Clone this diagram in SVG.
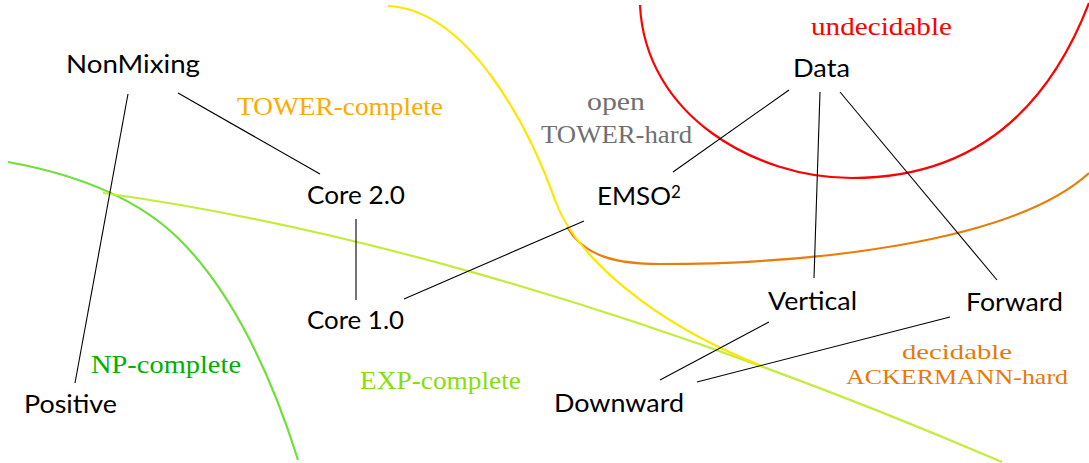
<svg xmlns="http://www.w3.org/2000/svg" width="1089" height="463" viewBox="0 0 1089 463">
<style>
.n{font-family:Lato,"Open Sans","DejaVu Sans",sans-serif;font-size:25px;fill:#000}
.c{font-family:"Liberation Serif","DejaVu Serif",serif;font-size:26px}
.s{font-size:22px}
.e{stroke:#000;stroke-width:1.1;fill:none}
.r{fill:none;stroke-width:2.2}
</style>
<rect width="1089" height="463" fill="#fff"/>
<g id="regions">
<path class="r" stroke="#ff0000" d="M640,5 C645,115 755,178 852,178 C955,178 1040,130 1089,3"/>
<path class="r" stroke="#e67e0a" d="M567,227 C585,258 620,264 660,264 C800,264 1010,245 1089,173"/>
<path class="r" stroke="#6ee03a" d="M8,162 C80,175 140,200 180,240 C230,290 270,370 298,460"/>
<path class="r" stroke="#c4ec3c" d="M103,193 C300,220 600,290 1002,462"/>
<path class="r" stroke="#ffe600" d="M388,6 C470,10 530,130 555,200 C575,255 650,322 762,366"/>
</g>
<g id="region-labels">
<text class="c" x="237" y="115" fill="#ffaa00" textLength="206" lengthAdjust="spacingAndGlyphs">TOWER-complete</text>
<text class="c" x="587" y="110" fill="#707070" textLength="58" lengthAdjust="spacingAndGlyphs">open</text>
<text class="c" x="541" y="143" fill="#707070" textLength="151" lengthAdjust="spacingAndGlyphs">TOWER-hard</text>
<text class="c" x="811" y="35" fill="#ff0000" textLength="141" lengthAdjust="spacingAndGlyphs">undecidable</text>
<text class="c" x="91" y="373" fill="#00b000" textLength="150" lengthAdjust="spacingAndGlyphs">NP-complete</text>
<text class="c" x="360" y="389" fill="#88dd11" textLength="161" lengthAdjust="spacingAndGlyphs">EXP-complete</text>
<text class="c s" x="902" y="359" fill="#e8780a" textLength="110" lengthAdjust="spacingAndGlyphs">decidable</text>
<text class="c s" x="846" y="384" fill="#e8780a" textLength="222" lengthAdjust="spacingAndGlyphs">ACKERMANN-hard</text>
</g>
<g id="connectors">
<line class="e" x1="128" y1="94" x2="75" y2="383"/>
<line class="e" x1="178" y1="93" x2="320" y2="174"/>
<line class="e" x1="356" y1="219" x2="356" y2="300"/>
<line class="e" x1="404" y1="299" x2="584" y2="221"/>
<line class="e" x1="673" y1="172" x2="789" y2="90"/>
<line class="e" x1="820" y1="92" x2="814" y2="278"/>
<line class="e" x1="840" y1="92" x2="997" y2="280"/>
<line class="e" x1="769" y1="322" x2="660" y2="380"/>
<line class="e" x1="950" y1="317" x2="697" y2="382"/>
</g>
<g id="NonMixing"><text class="n" x="66" y="73" textLength="134" lengthAdjust="spacingAndGlyphs">NonMixing</text></g>
<g id="Positive"><text class="n" x="24" y="413" textLength="93" lengthAdjust="spacingAndGlyphs">Positive</text></g>
<g id="Core2"><text class="n" x="307" y="204" textLength="98" lengthAdjust="spacingAndGlyphs">Core 2.0</text></g>
<g id="Core1"><text class="n" x="307" y="329" textLength="97" lengthAdjust="spacingAndGlyphs">Core 1.0</text></g>
<g id="EMSO2"><text class="n" x="597" y="205"><tspan textLength="74" lengthAdjust="spacingAndGlyphs">EMSO</tspan><tspan font-size="17" dy="-7">2</tspan></text></g>
<g id="Data"><text class="n" x="793" y="77" textLength="57" lengthAdjust="spacingAndGlyphs">Data</text></g>
<g id="Vertical"><text class="n" x="768" y="310" textLength="89" lengthAdjust="spacingAndGlyphs">Vertical</text></g>
<g id="Forward"><text class="n" x="966" y="311" textLength="97" lengthAdjust="spacingAndGlyphs">Forward</text></g>
<g id="Downward"><text class="n" x="554" y="412" textLength="130" lengthAdjust="spacingAndGlyphs">Downward</text></g>
</svg>
